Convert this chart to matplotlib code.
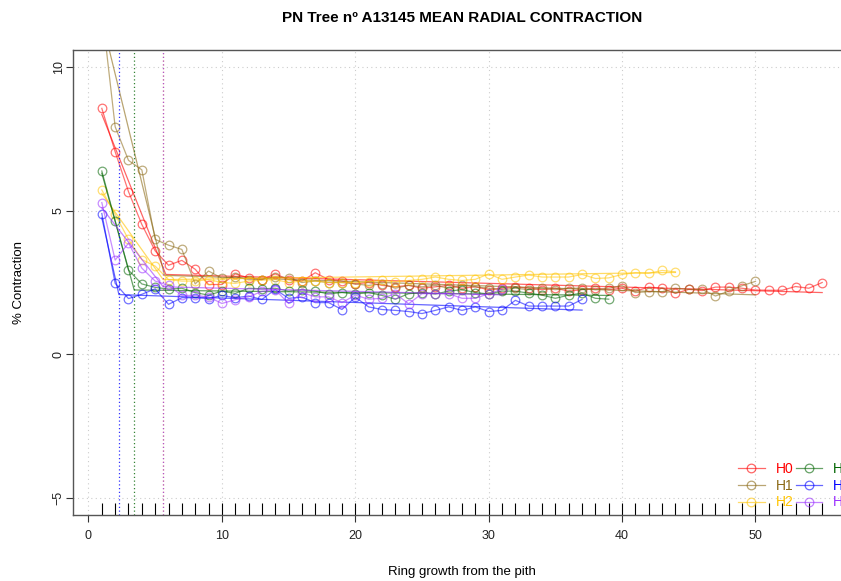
import matplotlib
matplotlib.use('Agg')
import matplotlib.pyplot as plt
import numpy as np

plt.rcParams['font.family'] = ['Liberation Sans', 'DejaVu Sans']

# % contraction per ring, one list per radius
h0 = [8.56, 7.05, 5.66, 4.52, 3.60, 3.10, 3.27, 2.96, 2.43, 2.43,
      2.80, 2.66, 2.60, 2.80, 2.60, 2.55, 2.84, 2.60, 2.55, 2.45,
      2.50, 2.40, 2.35, 2.40, 2.30, 2.35, 2.40, 2.30, 2.35, 2.25,
      2.30, 2.35, 2.30, 2.25, 2.30, 2.20, 2.25, 2.30, 2.25, 2.30,
      2.20, 2.34, 2.30, 2.12, 2.26, 2.22, 2.34, 2.34, 2.30, 2.24,
      2.23, 2.23, 2.36, 2.30, 2.50]
h1 = [12.0, 7.92, 6.75, 6.42, 4.00, 3.80, 3.65, 2.45, 2.90, 2.65,
      2.70, 2.60, 2.60, 2.70, 2.67, 2.50, 2.55, 2.50, 2.50, 2.45,
      2.40, 2.45, 2.30, 2.40, 2.35, 2.40, 2.30, 2.40, 2.35, 2.30,
      2.25, 2.30, 2.25, 2.30, 2.25, 2.30, 2.30, 2.25, 2.30, 2.39,
      2.15, 2.18, 2.18, 2.30, 2.26, 2.26, 2.03, 2.20, 2.39, 2.54]
h2 = [5.72, 4.87, 4.00, 3.30, 3.07, 2.60, 2.55, 2.55, 2.60, 2.50,
      2.47, 2.55, 2.58, 2.60, 2.50, 2.55, 2.55, 2.50, 2.50, 2.50,
      2.53, 2.57, 2.53, 2.57, 2.61, 2.69, 2.61, 2.57, 2.61, 2.80,
      2.61, 2.69, 2.76, 2.69, 2.69, 2.69, 2.78, 2.64, 2.66, 2.78,
      2.84, 2.82, 2.92, 2.87]
h3 = [6.38, 4.65, 2.93, 2.45, 2.33, 2.27, 2.30, 2.15, 2.06, 2.20,
      2.12, 2.30, 2.28, 2.30, 2.20, 2.25, 2.20, 2.10, 2.15, 2.10,
      2.15, 2.05, 1.92, 2.11, 2.15, 2.10, 2.20, 2.25, 2.15, 2.10,
      2.20, 2.20, 2.13, 2.06, 1.95, 2.06, 2.13, 1.95, 1.92]
h4 = [4.90, 2.47, 1.94, 2.09, 2.28, 1.74, 1.97, 1.97, 1.94, 2.05,
      1.97, 2.03, 1.91, 2.26, 1.95, 1.99, 1.80, 1.80, 1.56, 1.99,
      1.65, 1.56, 1.53, 1.49, 1.42, 1.53, 1.65, 1.53, 1.65, 1.49,
      1.53, 1.88, 1.68, 1.68, 1.68, 1.68, 1.91]
h5 = [5.28, 3.28, 3.87, 3.00, 2.55, 2.40, 2.05, 2.05, 2.00, 1.77,
      1.90, 2.00, 2.19, 2.25, 1.77, 2.15, 2.00, 2.00, 1.80, 2.06,
      1.92, 1.95, 2.11, 1.76, 2.11, 2.11, 2.11, 1.95, 1.95, 2.11,
      2.26]

series = [h0, h1, h2, h3, h4, h5]
names = ['H0', 'H1', 'H2', 'H3', 'H4', 'H5']
colors = ['#FF0000', '#8B6914', '#FFC400', '#006400', '#0000FF', '#9B30FF']

# segmented fit: start, breakpoint, end (x) and fitted values there
fit_x = [[1, 5.8, 55], [1, 5.7, 50], [1, 5.6, 44],
         [1, 3.43, 39], [1, 2.28, 37], [1, 5.6, 31]]
fit_y = [[8.35, 2.78, 2.15], [11.65, 2.75, 2.07], [5.6, 2.6, 2.85],
         [6.3, 2.24, 2.05], [4.75, 2.08, 1.54], [5.1, 2.35, 2.07]]
show_break = [False, False, True, True, True, True]

fig = plt.figure(figsize=(8.41, 5.81), dpi=100)
ax = fig.add_axes([73 / 841, 66 / 581, 778 / 841, 465 / 581])

ax.set_xlim(-1.16, 57.16)
ax.set_ylim(-5.59, 10.59)

for v in range(0, 60, 10):
    ax.axvline(v, color='#cccccc', lw=0.8, ls=(0, (1, 3)), zorder=0)
for v in range(-5, 15, 5):
    ax.axhline(v, color='#cccccc', lw=0.8, ls=(0, (1, 3)), zorder=0)

for vals, name, col, fx, fy, sb in zip(series, names, colors, fit_x, fit_y, show_break):
    x = np.arange(1, len(vals) + 1)
    ax.plot(x, vals, color=col, lw=0.9, marker='o', ms=6.2, mfc='none',
            mew=0.9, alpha=0.55, label=name)
    ax.plot(fx, fy, color=col, lw=0.9, alpha=0.6)
    if sb:
        ax.axvline(fx[1], color=col, lw=0.9, ls=(0, (1, 2)), alpha=0.8)

# rug of ring positions
rings = np.unique(np.concatenate([np.arange(1, len(s) + 1) for s in series]))
ax.vlines(rings, 0, 0.026, transform=ax.get_xaxis_transform(),
          color='black', lw=0.8)

for side in ['top', 'left', 'bottom']:
    ax.spines[side].set_color('#555555')
    ax.spines[side].set_linewidth(1.0)
ax.spines['right'].set_visible(False)

ax.set_xticks(range(0, 60, 10))
ax.set_yticks([-5, 0, 5, 10])
ax.tick_params(axis='both', direction='out', length=5, width=0.8,
               color='#333333', labelsize=9, labelcolor='#222222')
ax.tick_params(axis='x', pad=6)
ax.tick_params(axis='y', pad=1)
for lab in ax.get_yticklabels():
    lab.set_rotation(90)
    lab.set_va('center')

ax.set_xlabel('Ring growth from the pith', fontsize=9.5, labelpad=17)
ax.set_ylabel('% Contraction', fontsize=9.5, labelpad=20)

fig.text(462 / 841, 1 - 18 / 581, 'PN Tree nº A13145 MEAN RADIAL CONTRACTION',
         ha='center', va='center', fontsize=11, fontweight='bold')

leg = ax.legend(loc='lower right', bbox_to_anchor=(1.0, 0.012), ncol=2,
                frameon=False, fontsize=10, handlelength=1.9,
                handletextpad=0.8, columnspacing=0.15, labelspacing=0.2,
                borderaxespad=0, borderpad=0, labelcolor='linecolor')
for h in leg.legend_handles:
    h.set_alpha(0.6)

plt.savefig('out.png', dpi=100)
plt.close()
